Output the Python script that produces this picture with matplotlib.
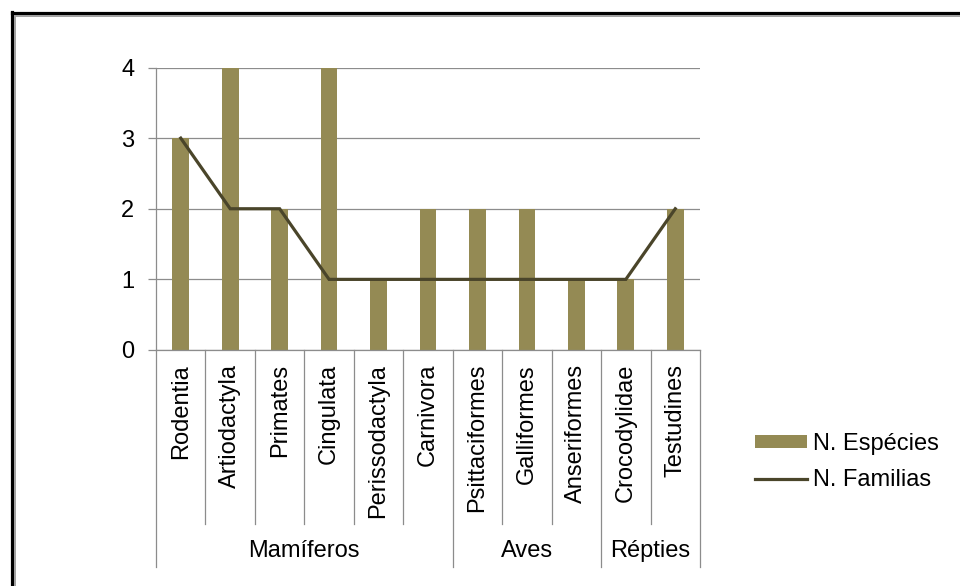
import matplotlib
matplotlib.use("Agg")
import matplotlib.pyplot as plt
from matplotlib.lines import Line2D
from matplotlib.patches import Patch
import matplotlib.transforms as mtransforms

plt.rcParams['font.family'] = ['Liberation Sans', 'DejaVu Sans']

categories = ["Rodentia", "Artiodactyla", "Primates", "Cingulata", "Perissodactyla",
              "Carnivora", "Psittaciformes", "Galliformes", "Anseriformes",
              "Crocodylidae", "Testudines"]
especies = [3, 4, 2, 4, 1, 2, 2, 2, 1, 1, 2]
familias = [3, 2, 2, 1, 1, 1, 1, 1, 1, 1, 2]
groups = ["Mamíferos", "Aves", "Répties"]
group_sizes = [6, 3, 2]
yticks = [0, 1, 2, 3, 4]

bar_color = "#948A54"
line_color = "#4A452A"
grid_color = "#8C8C8C"

W, H = 960, 586
fig = plt.figure(figsize=(W / 100, H / 100), dpi=100)
ax = fig.add_axes([156 / W, 1 - 350 / H, (700 - 156) / W, (350 - 67.5) / H])

x = list(range(len(categories)))
ax.bar(x, especies, width=0.34, color=bar_color, zorder=2, label="N. Espécies")
ax.plot(x, familias, color=line_color, lw=2.3, zorder=3, label="N. Familias",
        solid_joinstyle="miter")

ax.set_xlim(-0.5, len(categories) - 0.5)
ax.set_ylim(0, 4)
ax.set_yticks(yticks)
ax.yaxis.grid(True, color=grid_color, lw=0.9, zorder=0)
ax.set_axisbelow(True)
for s in ["top", "right"]:
    ax.spines[s].set_visible(False)
for s in ["left", "bottom"]:
    ax.spines[s].set_color(grid_color)
    ax.spines[s].set_linewidth(0.9)
ax.tick_params(axis="y", length=6, width=0.9, color=grid_color, pad=9.5, labelsize=17)
ax.set_xticks(x)
ax.set_xticklabels(categories, rotation=90, fontsize=17, va="top", ha="center")
ax.tick_params(axis="x", length=0, pad=10)

trans = mtransforms.blended_transform_factory(ax.transData, ax.transAxes)
short_bottom = -0.616
group_bottom = -0.768
group_bounds = [-0.5]
for g in group_sizes:
    group_bounds.append(group_bounds[-1] + g)
for k in range(len(categories) + 1):
    xb = k - 0.5
    bottom = group_bottom if xb in group_bounds else short_bottom
    ax.add_line(Line2D([xb, xb], [0, bottom], transform=trans, color=grid_color,
                       lw=0.9, clip_on=False))
for i, g in enumerate(groups):
    xc = (group_bounds[i] + group_bounds[i + 1]) / 2
    ax.text(xc, -0.7115, g, transform=trans, ha="center", va="center", fontsize=17)

handles = [Patch(facecolor=bar_color, edgecolor="none", label="N. Espécies"),
           Line2D([0], [0], color=line_color, lw=2.3, label="N. Familias")]
fig.legend(handles=handles, loc="center left",
           bbox_to_anchor=(755 / W, 1 - 462 / H), frameon=False, fontsize=17,
           handlelength=2.2, handleheight=0.47, handletextpad=0.27,
           labelspacing=0.62, borderpad=0, borderaxespad=0)

# figure border (black with grey inner edge)
fig.add_artist(Line2D([12 / W, 12 / W], [0, 1 - 12 / H], color="black", lw=2.3,
                      transform=fig.transFigure))
fig.add_artist(Line2D([12 / W, 1], [1 - 13 / H, 1 - 13 / H], color="black", lw=2.3,
                      transform=fig.transFigure))
fig.add_artist(Line2D([14.8 / W, 14.8 / W], [0, 1 - 15.5 / H], color="#A0A0A0", lw=1.4,
                      transform=fig.transFigure))
fig.add_artist(Line2D([14.8 / W, 1], [1 - 15.5 / H, 1 - 15.5 / H], color="#A0A0A0", lw=1.4,
                      transform=fig.transFigure))

fig.savefig("out.png", dpi=100)
